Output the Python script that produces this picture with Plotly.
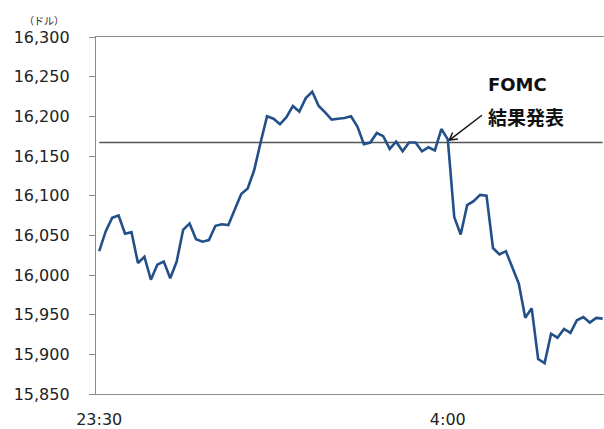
import plotly.graph_objects as go
import pandas as pd

# 5-minute time labels from 23:30 to 6:00
times = [t.strftime("%-H:%M") for t in pd.date_range("2014-01-01 23:30", periods=79, freq="5min")]

dow_values = [
    16030, 16055, 16072, 16075, 16052, 16054, 16015, 16023, 15994, 16013,
    16017, 15996, 16017, 16057, 16065, 16045, 16042, 16044, 16062, 16064,
    16063, 16083, 16102, 16109, 16132, 16167, 16200, 16197, 16190, 16199,
    16213, 16206, 16223, 16231, 16213, 16205, 16196, 16197, 16198, 16200,
    16187, 16165, 16167, 16179, 16175, 16159, 16168, 16156, 16167, 16167,
    16156, 16161, 16157, 16184, 16171, 16073, 16051, 16088, 16093, 16101,
    16100, 16034, 16026, 16030, 16010, 15989, 15946, 15958, 15894, 15889,
    15926, 15921, 15932, 15927, 15943, 15947, 15940, 15946, 15945,
]
ref_level = 16167
ref_values = [ref_level] * len(times)

x_tick_labels = ["23:30", "4:00"]
y_ticks = [15850, 15900, 15950, 16000, 16050, 16100, 16150, 16200, 16250, 16300]

xi = list(range(len(times)))
label_idx = [times.index(t) for t in x_tick_labels]
fomc_idx = times.index("4:00")

fig = go.Figure()
fig.add_trace(go.Scatter(x=xi, y=ref_values, mode="lines",
                         line=dict(color="#555555", width=1.3), hoverinfo="skip"))
fig.add_trace(go.Scatter(x=xi, y=dow_values, mode="lines",
                         line=dict(color="#24508a", width=2.6)))

font_main = "DejaVu Sans, Verdana, sans-serif"
fig.update_layout(
    width=604, height=429,
    margin=dict(l=96, r=0, t=37, b=33, pad=0),
    paper_bgcolor="white", plot_bgcolor="white",
    showlegend=False,
    font=dict(family=font_main, color="#222222", size=16),
    xaxis=dict(
        range=[-0.5, 78.2],
        tickmode="array", tickvals=label_idx, ticktext=x_tick_labels,
        showgrid=False, zeroline=False,
        showline=True, linecolor="#8c8c8c", linewidth=1.3, mirror=True,
        ticks="", ticklabelstandoff=11,
        tickfont=dict(size=16, family=font_main, color="#222222"),
    ),
    yaxis=dict(
        range=[15850, 16300],
        tickmode="array", tickvals=y_ticks, tickformat=",d",
        showgrid=False, zeroline=False,
        showline=True, linecolor="#8c8c8c", linewidth=1.3,
        ticks="outside", ticklen=6, tickcolor="#8c8c8c", tickwidth=1,
        ticklabelstandoff=16,
        tickfont=dict(size=16, family=font_main, color="#222222"),
    ),
)

fig.add_annotation(text="（ドル）", xref="paper", yref="paper",
                   x=(44 - 96) / 508, y=1 + (37 - 20) / 359, xanchor="center", yanchor="middle",
                   showarrow=False, font=dict(size=10, family="Noto Sans CJK JP", color="#222222"))

# arrow shaft and open arrowhead (two barbs)
tip_x, tip_y = fomc_idx + 0.25, 16170
for (dx, dy) in [(34, -26), (10, -1.3), (3.8, -9.2)]:
    fig.add_annotation(x=tip_x, y=tip_y, ax=dx, ay=dy, text="",
                       showarrow=True, arrowhead=0, arrowwidth=1.4, arrowcolor="#111111")

fig.add_annotation(text="<b>FOMC</b>", xref="paper", yref="paper",
                   x=(486 - 96) / 508, y=1 - (85 - 37) / 359, xanchor="left", yanchor="middle",
                   showarrow=False, font=dict(size=18, family="DejaVu Sans", color="#111111"))
fig.add_annotation(text="<b>結果発表</b>", xref="paper", yref="paper",
                   x=(486 - 96) / 508, y=1 - (117 - 37) / 359, xanchor="left", yanchor="middle",
                   showarrow=False, font=dict(size=19, family="Noto Sans CJK JP", color="#111111"))

fig.write_html("out.html")
